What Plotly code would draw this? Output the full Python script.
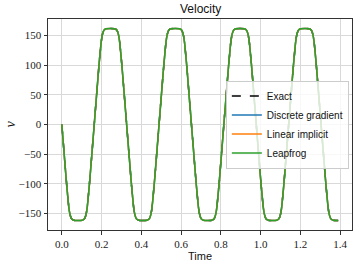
import plotly.graph_objects as go

# Time samples (s)
time = [
    0, .005, .01, .015, .02, .025, .03, .035, .04, .045, .05, .06, .0815, .103, .113, .118, .123, .128, .133, .138, .143, .148, .153, .158,
    .163, .168, .173, .178, .183, .188, .193, .198, .203, .208, .213, .223, .2445, .266, .276, .281, .286, .291, .296, .301, .306, .311, .316, .321,
    .326, .331, .336, .341, .346, .351, .356, .361, .366, .371, .376, .386, .4075, .429, .439, .444, .449, .454, .459, .464, .469, .474, .479, .484,
    .489, .494, .499, .504, .509, .514, .519, .524, .529, .534, .539, .549, .5705, .592, .602, .607, .612, .617, .622, .627, .632, .637, .642, .647,
    .652, .657, .662, .667, .672, .677, .682, .687, .692, .697, .702, .712, .7335, .755, .765, .770, .775, .780, .785, .790, .795, .800, .805, .810,
    .815, .820, .825, .830, .835, .840, .845, .850, .855, .860, .865, .875, .8965, .918, .928, .933, .938, .943, .948, .953, .958, .963, .968, .973,
    .978, .983, .988, .993, .998, 1.003, 1.008, 1.013, 1.018, 1.023, 1.028, 1.038, 1.0595, 1.081, 1.091, 1.096, 1.101, 1.106, 1.111, 1.116, 1.121, 1.126, 1.131, 1.136,
    1.141, 1.146, 1.151, 1.156, 1.161, 1.166, 1.171, 1.176, 1.181, 1.186, 1.191, 1.201, 1.2225, 1.244, 1.254, 1.259, 1.264, 1.269, 1.274, 1.279, 1.284, 1.289, 1.294, 1.299,
    1.304, 1.309, 1.314, 1.319, 1.324, 1.329, 1.334, 1.339, 1.344, 1.349, 1.354, 1.364, 1.3855, 1.39,
]

# Velocity values (all methods overlap)
velocity = [
    0, -21, -42, -63, -84, -104, -122, -139, -150, -156, -159.5, -161.5, -162, -161.5, -159.5, -156, -150, -139, -122, -104, -84, -63, -42, -21,
    0, 21, 42, 63, 84, 104, 122, 139, 150, 156, 159.5, 161.5, 162, 161.5, 159.5, 156, 150, 139, 122, 104, 84, 63, 42, 21,
    0, -21, -42, -63, -84, -104, -122, -139, -150, -156, -159.5, -161.5, -162, -161.5, -159.5, -156, -150, -139, -122, -104, -84, -63, -42, -21,
    0, 21, 42, 63, 84, 104, 122, 139, 150, 156, 159.5, 161.5, 162, 161.5, 159.5, 156, 150, 139, 122, 104, 84, 63, 42, 21,
    0, -21, -42, -63, -84, -104, -122, -139, -150, -156, -159.5, -161.5, -162, -161.5, -159.5, -156, -150, -139, -122, -104, -84, -63, -42, -21,
    0, 21, 42, 63, 84, 104, 122, 139, 150, 156, 159.5, 161.5, 162, 161.5, 159.5, 156, 150, 139, 122, 104, 84, 63, 42, 21,
    0, -21, -42, -63, -84, -104, -122, -139, -150, -156, -159.5, -161.5, -162, -161.5, -159.5, -156, -150, -139, -122, -104, -84, -63, -42, -21,
    0, 21, 42, 63, 84, 104, 122, 139, 150, 156, 159.5, 161.5, 162, 161.5, 159.5, 156, 150, 139, 122, 104, 84, 63, 42, 21,
    0, -21, -42, -63, -84, -104, -122, -139, -150, -156, -159.5, -161.5, -162, -162,
]

series_names = ["Exact", "Discrete gradient", "Linear implicit", "Leapfrog"]
series_colors = ["black", "#1f77b4", "#ff7f0e", "#2ca02c"]
series_dash = ["dash", "solid", "solid", "solid"]

x_ticks = [0.0, 0.2, 0.4, 0.6, 0.8, 1.0, 1.2, 1.4]
y_ticks = [-150, -100, -50, 0, 50, 100, 150]

fig = go.Figure()
for name, color, dash in zip(series_names, series_colors, series_dash):
    fig.add_trace(go.Scatter(x=time, y=velocity, mode="lines", name=name,
                             line=dict(color=color, width=1.5, dash=dash,
                                       shape="spline", smoothing=0.6)))

axis_common = dict(
    showline=True, mirror=True, linecolor="#333333", linewidth=1,
    ticks="outside", ticklen=3.5, tickcolor="#333333", tickwidth=0.8,
    showgrid=True, gridcolor="#d9d9d9", gridwidth=0.8, zeroline=False,
    automargin=False,
    tickfont=dict(family="Liberation Serif", size=11, color="#222222"),
)

fig.update_layout(
    width=357, height=264,
    margin=dict(l=48, r=5, t=19, b=34),
    paper_bgcolor="white", plot_bgcolor="white",
    xaxis=dict(range=[-0.0695, 1.4595], tickvals=x_ticks, tickformat=".1f", **axis_common),
    yaxis=dict(range=[-178, 178], tickvals=y_ticks, **axis_common),
    legend=dict(x=0.585, y=0.50, xanchor="left", yanchor="middle",
                bgcolor="rgba(255,255,255,0.8)", bordercolor="#cccccc", borderwidth=1,
                font=dict(family="Liberation Sans", size=10, color="#111111"),
                itemwidth=30, tracegroupgap=0),
    showlegend=True,
    annotations=[
        dict(text="Velocity", xref="paper", yref="paper", x=0.5, y=1.0, yshift=1,
             xanchor="center", yanchor="bottom", showarrow=False,
             font=dict(family="Liberation Sans", size=12, color="#111111")),
        dict(text="Time", xref="paper", yref="paper", x=0.5, y=0, yshift=-18,
             xanchor="center", yanchor="top", showarrow=False,
             font=dict(family="Liberation Sans", size=11, color="#111111")),
        dict(text="<i>v</i>", xref="paper", yref="paper", x=0, y=0.5, xshift=-38,
             xanchor="center", yanchor="middle", showarrow=False, textangle=-90,
             font=dict(family="Liberation Serif", size=14, color="#111111")),
    ],
)

fig.write_html("out.html", config={"displayModeBar": False},
               post_script="document.body.style.margin='0';")
